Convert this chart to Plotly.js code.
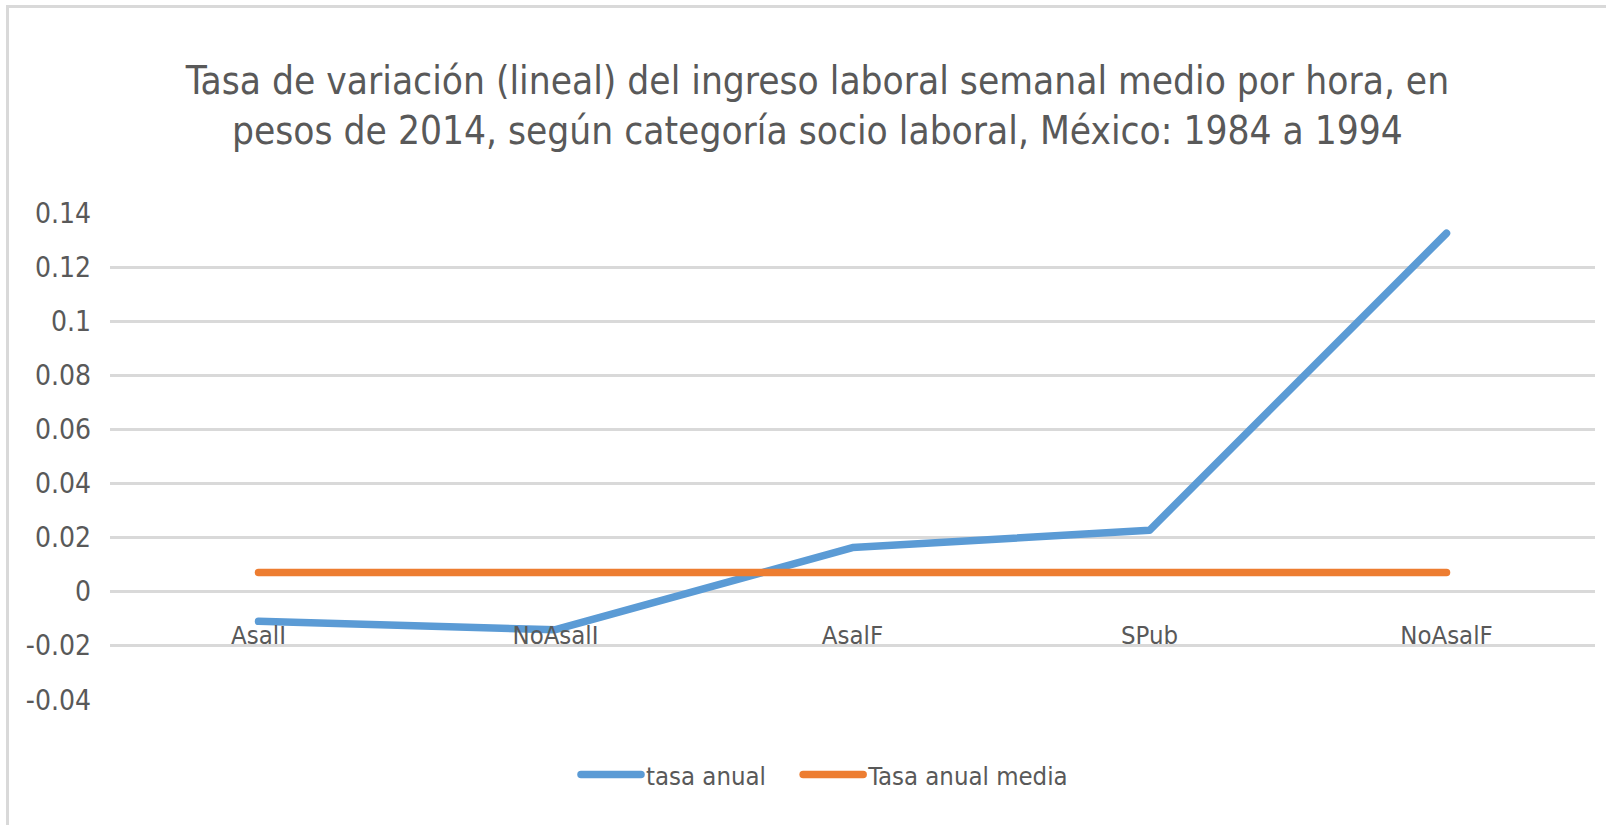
<!DOCTYPE html>
<html>
<head>
<meta charset="utf-8">
<script src="https://cdn.plot.ly/plotly-3.0.1.min.js"></script>
<style>
  html, body { margin: 0; padding: 0; background: #ffffff; }
  #frame { position: absolute; left: 0; top: 0; width: 1606px; height: 825px; overflow: hidden; }
  #border { position: absolute; left: 6px; top: 5px; right: -10px; bottom: -10px; border-top: 3px solid #d9d9d9; border-left: 3px solid #d9d9d9; pointer-events: none; }
  #chart { position: absolute; left: 0; top: 0; width: 1606px; height: 825px; }
  .scatterlayer .js-line, .legendlines path { stroke-linecap: round; stroke-linejoin: round; }
</style>
</head>
<body>
<div id="frame">
  <div id="chart"></div>
  <div id="border"></div>
</div>
<script>
// Data
const categories = ["AsalI", "NoAsalI", "AsalF", "SPub", "NoAsalF"];
const tasaAnual = [-0.0110, -0.0141, 0.0163, 0.0227, 0.1326];
const tasaAnualMedia = [0.0071, 0.0071, 0.0071, 0.0071, 0.0071];
const yTickVals = [-0.04, -0.02, 0, 0.02, 0.04, 0.06, 0.08, 0.1, 0.12, 0.14];
const yTickText = ["-0.04", "-0.02", "0", "0.02", "0.04", "0.06", "0.08", "0.1", "0.12", "0.14"];
const seriesNames = ["tasa anual", "Tasa anual media"];
const titleText = "Tasa de variación (lineal) del ingreso laboral semanal medio por hora, en<br>pesos de 2014, según categoría socio laboral, México: 1984 a 1994";

const FONT = "'Liberation Sans Narrow', 'DejaVu Sans Condensed', 'Liberation Sans', sans-serif";
const GREY = "#595959";

const traces = [
  {
    type: "scatter", mode: "lines", name: seriesNames[0],
    x: categories, y: tasaAnual,
    line: { color: "#5B9BD5", width: 7.5 },
    legend: "legend",
    hoverinfo: "x+y"
  },
  {
    type: "scatter", mode: "lines", name: seriesNames[1],
    x: categories, y: tasaAnualMedia,
    line: { color: "#ED7D31", width: 7.5 },
    legend: "legend2",
    hoverinfo: "x+y"
  }
];

const legendBase = {
  orientation: "h",
  yanchor: "middle",
  y: -0.154,
  xanchor: "left",
  font: { family: FONT, size: 25.5, color: GREY },
  bgcolor: "rgba(0,0,0,0)",
  itemwidth: 60
};

const layout = {
  width: 1606, height: 825,
  paper_bgcolor: "rgba(0,0,0,0)",
  plot_bgcolor: "rgba(0,0,0,0)",
  margin: { l: 110, r: 11, t: 213, b: 125 },
  font: { family: FONT, color: GREY, size: 28 },
  title: {
    text: titleText,
    font: { family: FONT, size: 38.5, color: GREY },
    x: 0.509, xref: "container", xanchor: "center",
    y: 1 - 94 / 825, yref: "container", yanchor: "middle"
  },
  showlegend: true,
  legend: Object.assign({}, legendBase, { x: 0.3138 }),
  legend2: Object.assign({}, legendBase, { x: 0.4634 }),
  xaxis: {
    type: "category",
    range: [-0.5, 4.5],
    anchor: "free",
    position: (0.0401) / (0.1802),
    showgrid: false, zeroline: false, showline: false,
    ticks: "",
    ticklabelstandoff: 26,
    tickfont: { family: FONT, size: 25.5, color: GREY },
    fixedrange: true
  },
  yaxis: {
    range: [-0.0401, 0.1401],
    tickmode: "array",
    tickvals: yTickVals,
    ticktext: yTickText,
    showgrid: true, gridcolor: "#d9d9d9", gridwidth: 2.5,
    zeroline: false, showline: false,
    ticks: "",
    ticklabelstandoff: 18,
    tickfont: { family: FONT, size: 28, color: GREY },
    fixedrange: true
  }
};

Plotly.newPlot("chart", traces, layout, { displayModeBar: false, staticPlot: true });
</script>
</body>
</html>
